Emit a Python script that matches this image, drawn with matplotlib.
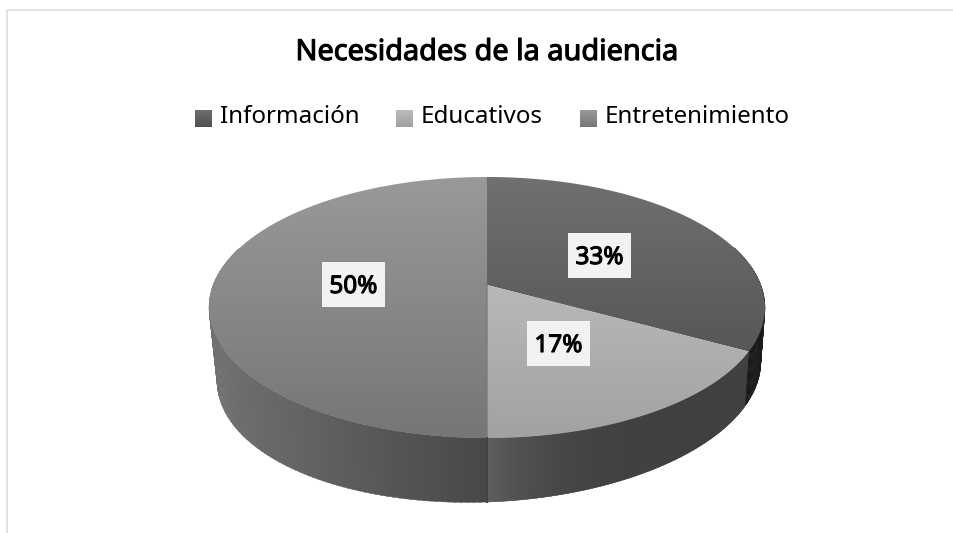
import numpy as np
import matplotlib
matplotlib.use("Agg")
import matplotlib.pyplot as plt
import matplotlib.patheffects as pe
from matplotlib.patches import Polygon, Rectangle

categories = ["Información", "Educativos", "Entretenimiento"]
values = [33, 17, 50]
labels = ["33%", "17%", "50%"]
top_colors = [("#707070", "#4a4a4a"), ("#c8c8c8", "#a2a2a2"), ("#999999", "#767676")]
legend_colors = [("#6e6e6e", "#505050"), ("#bcbcbc", "#a0a0a0"), ("#9a9a9a", "#767676")]
title = "Necesidades de la audiencia"

#side colours along each slice, from first angle to last angle
side_colors = [("#1a1a1a", "#2c2c2c"), ("#404040", "#5e5e5e"), ("#484848", "#707070")]

W, H = 954, 533
font = "Noto Sans"


#projects a point of the pie (radius r, angle t clockwise from top) to the picture
def top_rim(t, r=1.0):
    c = 0.1724
    w = 1 + c * r * np.cos(t)
    x = 487 + 273.8 * r * np.sin(t) / w
    y = (285 - 77.5 * r * np.cos(t)) / w
    return x, y


def bottom_rim(t):
    x, y = top_rim(t)
    scale = 0.985 if x > 487 else 0.971
    xb = 487 + (x - 487) * scale
    yb = y + 64 - 0.035 * (xb - 487)
    return xb, yb


#vertical gradient image clipped to a patch
def gradient_fill(ax, patch, c1, c2, y1, y2):
    ax.add_patch(patch)
    patch.set_facecolor("none")
    patch.set_edgecolor("none")
    rgb1 = np.array(matplotlib.colors.to_rgb(c1))
    rgb2 = np.array(matplotlib.colors.to_rgb(c2))
    n = 64
    img = np.array([rgb1 + (rgb2 - rgb1) * i / (n - 1) for i in range(n)])[:, None, :]
    im = ax.imshow(img, extent=(0, W, y2, y1), aspect="auto", zorder=patch.get_zorder(), interpolation="bilinear")
    im.set_clip_path(patch)
    ax.set_xlim(0, W)
    ax.set_ylim(H, 0)


fig = plt.figure(figsize=(W / 100, H / 100), dpi=100)
ax = fig.add_axes([0, 0, 1, 1])
ax.set_xlim(0, W)
ax.set_ylim(H, 0)
ax.axis("off")

#chart frame
ax.plot([7.5, 7.5, 954], [H, 9.5, 9.5], color="#dcdfe3", lw=1.2, zorder=1)

#slice angles
bounds = 2 * np.pi * np.cumsum([0] + values) / sum(values)

#side wall, drawn in thin strips so the shade changes across it
for i in range(len(values)):
    a, b = bounds[i], bounds[i + 1]
    ts = np.linspace(a, b, 160)
    c1 = np.array(matplotlib.colors.to_rgb(side_colors[i][0]))
    c2 = np.array(matplotlib.colors.to_rgb(side_colors[i][1]))
    for j in range(len(ts) - 1):
        t0, t1 = ts[j], ts[j + 1] + 0.004
        if np.cos(t0) > 0.3 and np.cos(t1) > 0.3:
            continue
        if i == 0:
            f = 1 - j / (len(ts) - 2)
        elif i == 1:
            f = (j / (len(ts) - 2)) ** 6
        else:
            xm = top_rim(t0)[0]
            f = min(abs(xm - 487) / 270, 1)
        col = c1 + (c2 - c1) * f
        xa, ya = top_rim(t0)
        xb, yb = top_rim(t1)
        xc, yc = bottom_rim(t1)
        xd, yd = bottom_rim(t0)
        ax.add_patch(Polygon([(xa, ya), (xb, yb), (xc, yc), (xd, yd)], closed=True,
                             facecolor=col, edgecolor=col, lw=0.3, zorder=2))

#top of the pie
cx, cy = top_rim(0.0, 0.0)
for i in range(len(values)):
    ts = np.linspace(bounds[i], bounds[i + 1], 200)
    xs, ys = top_rim(ts)
    pts = np.column_stack([np.r_[cx, xs], np.r_[cy, ys]])
    patch = Polygon(pts, closed=True, zorder=3 + i)
    gradient_fill(ax, patch, top_colors[i][0], top_colors[i][1], 177, 438)

#seam between slices on the front
x0, y0 = top_rim(np.pi)
x1, y1 = bottom_rim(np.pi)
ax.plot([cx, x0], [cy, y0], color="#777777", lw=1.5, alpha=0.6, zorder=7)
ax.plot([x0, x1], [y0, y1], color="#444444", lw=1.5, zorder=7)

#no bold face of this font is installed, so thicken the strokes
bold = [pe.withStroke(linewidth=0.8, foreground="black")]

#data labels
label_pos = [(599.5, 255.5), (558.5, 343.5), (353.5, 284.5)]
for lab, pos in zip(labels, label_pos):
    ax.add_patch(Rectangle((pos[0] - 31.5, pos[1] - 22.5), 63, 45, facecolor="#f2f2f2", edgecolor="none", zorder=8))
    ax.text(pos[0], pos[1] + 8.5, lab, ha="center", va="baseline", fontsize=17.5, family=font,
            color="black", zorder=9, path_effects=bold)

ax.text(487.5, 60, title, ha="center", va="baseline", fontsize=20.8, family=font, color="black", path_effects=bold)

#legend
legend_x = [195, 396, 580]
for name, lx, cols in zip(categories, legend_x, legend_colors):
    r = Rectangle((lx, 110), 17, 17, zorder=3)
    gradient_fill(ax, r, cols[0], cols[1], 110, 127)
    ax.text(lx + 25, 123, name, ha="left", va="baseline", fontsize=17.4, family=font, color="black")

fig.savefig("out.png", dpi=100)
